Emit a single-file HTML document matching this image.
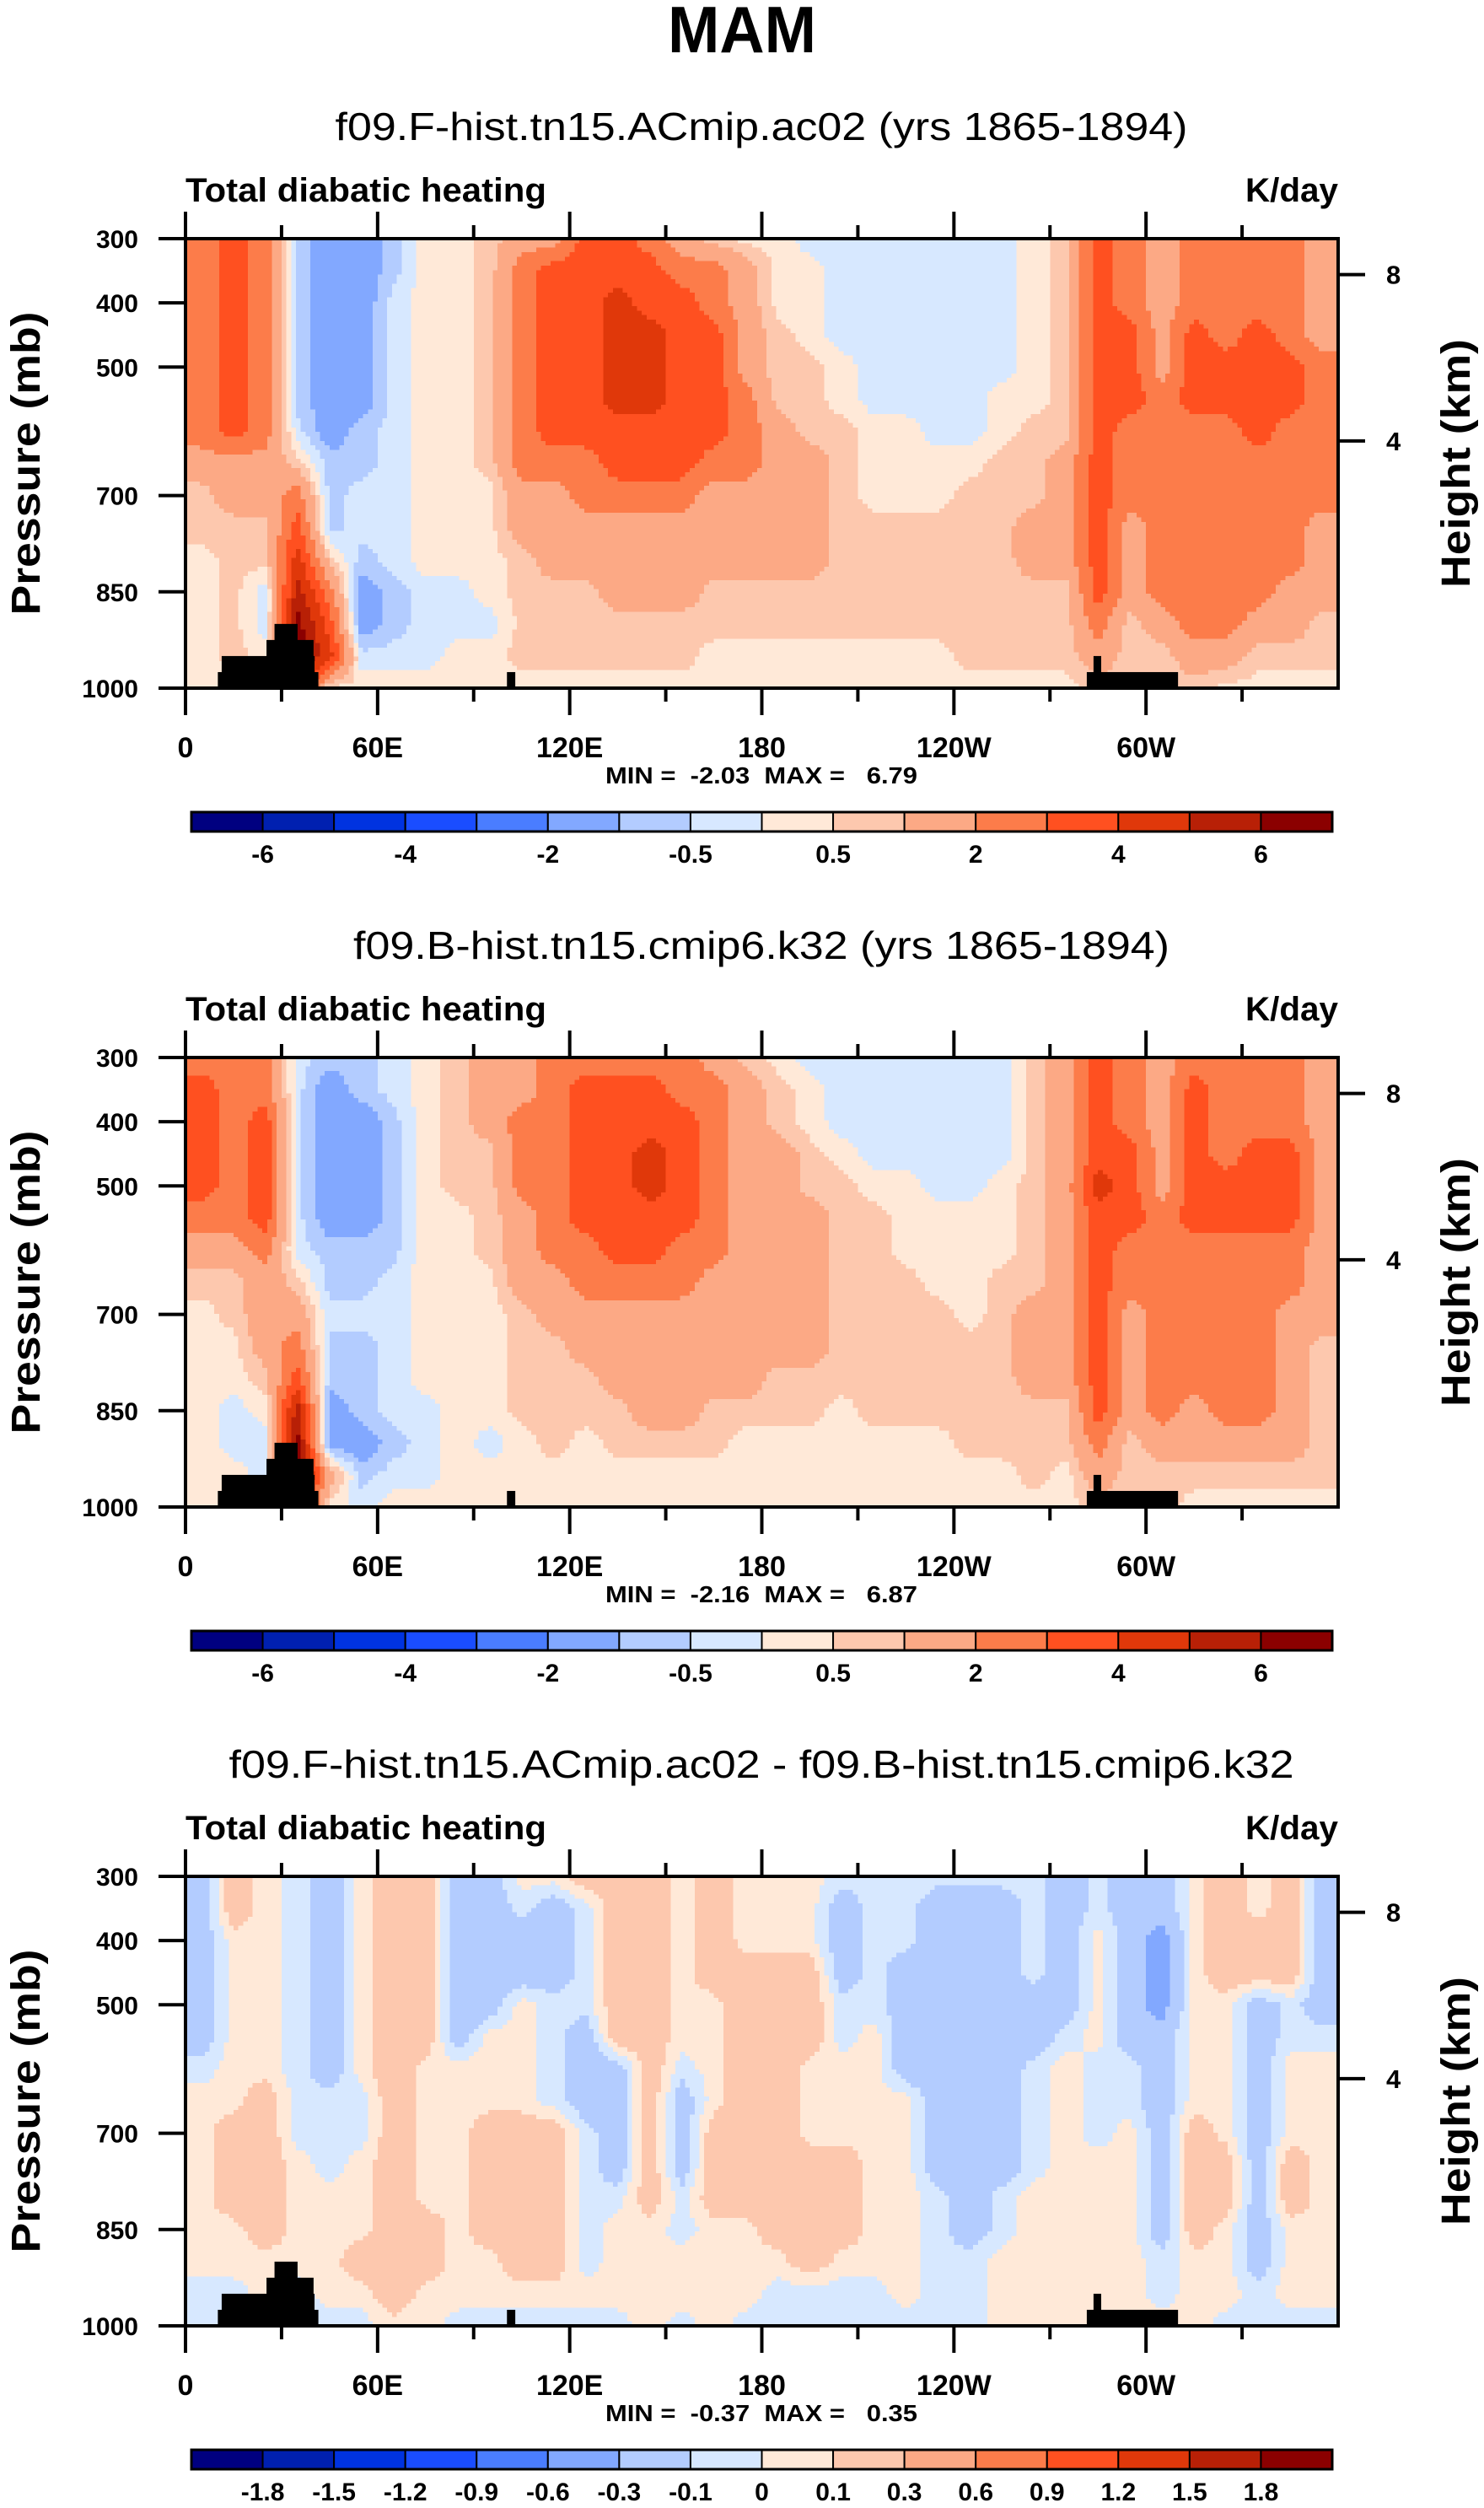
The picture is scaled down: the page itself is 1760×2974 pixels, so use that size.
<!DOCTYPE html>
<html><head><meta charset="utf-8">
<style>
html,body{margin:0;padding:0;background:#fff;}
svg{display:block;font-family:"Liberation Sans",sans-serif;}
.pre{white-space:pre;}
</style></head>
<body>
<svg id="fig" xmlns="http://www.w3.org/2000/svg" width="1760" height="2974" viewBox="0 0 1760 2974">
<rect width="1760" height="2974" fill="#fff"/>
<text x="880" y="62" text-anchor="middle" font-size="78" font-weight="bold" textLength="176" lengthAdjust="spacingAndGlyphs">MAM</text>
</svg>
<script>
// ---- data ----
const lonNodes = [5,15,25,35,45,55,65,75,85,95,105,115,125,135,145,155,165,175,185,195,205,215,225,235,245,255,265,275,285,295,305,315,325,335,345,355];
const presNodes = [300,350,400,450,500,550,600,650,700,750,800,850,900,950,1000];
const levelsFull = [-6,-5,-4,-3,-2,-1,-0.5,0,0.5,1,2,3,4,5,6];
const labelsFull = ["","-6","","-4","","-2","","-0.5","","0.5","","2","","4","","6"];
const levelsDiff = [-1.8,-1.5,-1.2,-0.9,-0.6,-0.3,-0.1,0,0.1,0.3,0.6,0.9,1.2,1.5,1.8];
const labelsDiff = ["","-1.8","-1.5","-1.2","-0.9","-0.6","-0.3","-0.1","0","0.1","0.3","0.6","0.9","1.2","1.5","1.8"];
const palette = ["#000080","#0020b0","#0033e0","#1a4dff","#4a7dff","#82a8ff","#b3ccff","#d7e8ff","#ffe9d8","#fdc8ae","#fca985","#fc7c4a","#ff5020","#e0380a","#b82006","#8b0000"];
const xTickLabels = ["0","60E","120E","180","120W","60W"];
const xTickLons = [0,60,120,180,240,300];
const yTickLabels = ["300","400","500","700","850","1000"];
const yTickPres = [300,400,500,700,850,1000];
const hTickLabels = ["8","4"];
const hTickPres = [356,615];
// terrain blocks: [lonStart, lonEnd, topPressure]
const terrainLon0 = [10.1,11.3,25.3,27.8,100.4,281.5,283.6];
const terrainLon1 = [41.5,40.3,40.0,35.0,103.0,310.0,286.0];
const terrainTop = [975,950,925,900,975,975,950];
const subtitles = ["f09.F-hist.tn15.ACmip.ac02 (yrs 1865-1894)","f09.B-hist.tn15.cmip6.k32 (yrs 1865-1894)","f09.F-hist.tn15.ACmip.ac02 - f09.B-hist.tn15.cmip6.k32"];
const minMax = ["MIN =  -2.03  MAX =   6.79","MIN =  -2.16  MAX =   6.87","MIN =  -0.37  MAX =   0.35"];

const fieldA = [
[2.5,2.5,2.5,2.5,2.5,2.5,2.5,1.5,0.7,0.7,0.3,0.3,0.3,0.3,0.3],
[3.5,3.5,3.5,3.5,3.5,3.5,3.5,1.5,1.5,0.7,0.7,0.7,0.7,0.7,0.3],
[2.5,2.5,2.5,2.5,2.5,2.5,2.5,1.5,1.5,0.7,0.7,-0.3,-0.3,0.3,0.3],
[-0.7,-0.7,-0.7,-0.7,-0.7,-0.7,-0.3,0.7,2.5,3.5,4.5,5.5,6.5,6.5,5],
[-1.5,-1.5,-1.5,-1.5,-1.5,-1.5,-1.5,-0.7,-0.7,-0.7,0.7,2.5,3.5,4.5,0.3],
[-1.5,-1.5,-1.5,-1.5,-1.5,-1.5,-0.7,-0.7,-0.3,-0.3,-0.7,-1.5,-1.5,-0.3,0.3],
[-0.7,-0.7,-0.3,-0.3,-0.3,-0.3,-0.3,-0.3,-0.3,-0.3,-0.3,-0.7,-0.7,-0.3,0.3],
[0.3,0.3,0.3,0.3,0.3,0.3,0.3,0.3,0.3,0.3,0.3,-0.3,-0.3,-0.3,0.3],
[0.3,0.3,0.3,0.3,0.3,0.3,0.3,0.3,0.3,0.3,0.3,-0.3,-0.3,0.3,0.3],
[0.7,0.7,0.7,0.7,0.7,0.7,0.7,0.7,0.3,0.3,0.3,0.3,-0.3,0.3,0.3],
[1.5,2.5,2.5,2.5,2.5,2.5,2.5,2.5,1.5,1.5,0.7,0.7,0.7,0.7,0.3],
[1.5,3.5,3.5,3.5,3.5,3.5,3.5,2.5,1.5,1.5,1.5,0.7,0.7,0.7,0.3],
[3.5,3.5,3.5,3.5,3.5,3.5,3.5,2.5,2.5,1.5,1.5,0.7,0.7,0.7,0.3],
[3.5,3.5,4.5,4.5,4.5,4.5,3.5,3.5,2.5,1.5,1.5,1.5,0.7,0.7,0.3],
[2.5,3.5,3.5,4.5,4.5,4.5,3.5,3.5,2.5,1.5,1.5,1.5,0.7,0.7,0.3],
[1.5,2.5,3.5,3.5,3.5,3.5,3.5,3.5,2.5,1.5,1.5,1.5,0.7,0.7,0.3],
[0.7,2.5,2.5,3.5,3.5,3.5,3.5,2.5,1.5,1.5,1.5,0.7,0.7,0.3,0.3],
[0.3,1.5,1.5,1.5,1.5,2.5,2.5,2.5,1.5,1.5,1.5,0.7,0.7,0.3,0.3],
[0.3,0.3,0.3,0.7,0.7,0.7,1.5,1.5,1.5,1.5,1.5,0.7,0.7,0.3,0.3],
[-0.3,0.3,0.3,0.3,0.7,0.7,0.7,1.5,1.5,1.5,1.5,0.7,0.7,0.3,0.3],
[-0.3,-0.3,-0.3,-0.3,0.3,0.3,0.7,0.7,0.7,0.7,0.7,0.7,0.7,0.3,0.3],
[-0.3,-0.3,-0.3,-0.3,-0.3,-0.3,0.3,0.3,0.3,0.7,0.7,0.7,0.7,0.3,0.3],
[-0.3,-0.3,-0.3,-0.3,-0.3,-0.3,0.3,0.3,0.3,0.7,0.7,0.7,0.7,0.3,0.3],
[-0.3,-0.3,-0.3,-0.3,-0.3,-0.3,-0.3,0.3,0.3,0.7,0.7,0.7,0.7,0.3,0.3],
[-0.3,-0.3,-0.3,-0.3,-0.3,-0.3,-0.3,0.3,0.7,0.7,0.7,0.7,0.7,0.7,0.3],
[-0.3,-0.3,-0.3,-0.3,-0.3,0.3,0.3,0.7,0.7,0.7,0.7,0.7,0.7,0.7,0.3],
[0.3,0.3,0.3,0.3,0.3,0.3,0.7,0.7,0.7,1.5,1.5,0.7,0.7,0.7,0.3],
[0.7,0.7,0.7,0.7,0.7,0.7,0.7,1.5,1.5,1.5,1.5,0.7,0.7,0.7,0.3],
[3.5,3.5,3.5,3.5,3.5,3.5,3.5,3.5,3.5,3.5,3.5,3.5,2.5,1.5,0.7],
[2.5,2.5,2.5,3.5,3.5,3.5,2.5,2.5,2.5,1.5,1.5,1.5,0.7,0.7,0.7],
[1.5,1.5,1.5,1.5,1.5,2.5,2.5,2.5,2.5,2.5,2.5,2.5,1.5,0.7,0.7],
[2.5,2.5,2.5,3.5,3.5,3.5,2.5,2.5,2.5,2.5,2.5,2.5,2.5,1.5,0.7],
[2.5,2.5,2.5,2.5,3.5,3.5,2.5,2.5,2.5,2.5,2.5,2.5,2.5,1.5,0.3],
[2.5,2.5,2.5,3.5,3.5,3.5,3.5,2.5,2.5,2.5,2.5,2.5,1.5,0.7,0.3],
[2.5,2.5,2.5,2.5,3.5,3.5,2.5,2.5,2.5,2.5,2.5,1.5,1.5,0.7,0.3],
[1.5,1.5,1.5,1.5,2.5,2.5,2.5,2.5,2.5,1.5,1.5,1.5,0.7,0.7,0.3]
];
const fieldB = [
[2.5,3.5,3.5,3.5,3.5,2.5,1.5,0.7,0.3,0.3,0.3,0.3,0.3,0.3,0.3],
[2.5,2.5,2.5,2.5,2.5,2.5,1.5,0.7,0.7,0.3,0.3,-0.3,-0.3,0.3,0.3],
[2.5,2.5,3.5,3.5,3.5,3.5,2.5,1.5,1.5,1.5,0.7,0.3,-0.3,-0.3,0.3],
[-0.3,-0.3,-0.3,-0.3,-0.3,-0.3,-0.3,0.7,1.5,2.5,3.5,5.5,6.5,6.5,5],
[-0.7,-1.5,-1.5,-1.5,-1.5,-1.5,-0.7,-0.7,-0.3,-0.7,-0.7,-1.5,-1.5,1.5,0.3],
[-0.7,-0.7,-1.5,-1.5,-1.5,-1.5,-0.7,-0.7,-0.3,-0.7,-0.7,-0.7,-1.5,-0.7,-0.3],
[-0.3,-0.3,-0.7,-0.7,-0.7,-0.7,-0.7,-0.3,-0.3,-0.3,-0.3,-0.3,-0.7,-0.3,0.3],
[0.3,0.3,0.3,0.3,0.3,0.3,0.3,0.3,0.3,0.3,0.3,-0.3,-0.3,-0.3,0.3],
[0.7,0.7,0.7,0.7,0.7,0.3,0.3,0.3,0.3,0.3,0.3,0.3,0.3,0.3,0.3],
[1.5,1.5,1.5,0.7,0.7,0.7,0.7,0.3,0.3,0.3,0.3,0.3,-0.3,0.3,0.3],
[1.5,1.5,2.5,2.5,2.5,1.5,1.5,1.5,0.7,0.7,0.7,0.7,0.3,0.3,0.3],
[2.5,2.5,2.5,2.5,2.5,2.5,2.5,1.5,1.5,0.7,0.7,0.7,0.7,0.3,0.3],
[2.5,3.5,3.5,3.5,3.5,3.5,2.5,2.5,1.5,1.5,0.7,0.7,0.3,0.3,0.3],
[2.5,3.5,3.5,3.5,3.5,3.5,3.5,2.5,1.5,1.5,1.5,0.7,0.7,0.3,0.3],
[2.5,3.5,3.5,4.5,4.5,3.5,3.5,2.5,1.5,1.5,1.5,1.5,0.7,0.3,0.3],
[2.5,2.5,3.5,3.5,3.5,3.5,2.5,2.5,1.5,1.5,1.5,1.5,0.7,0.3,0.3],
[1.5,2.5,2.5,2.5,2.5,2.5,2.5,1.5,1.5,1.5,1.5,0.7,0.7,0.3,0.3],
[0.7,1.5,1.5,1.5,1.5,1.5,1.5,1.5,1.5,1.5,1.5,0.7,0.3,0.3,0.3],
[0.3,0.7,0.7,1.5,1.5,1.5,1.5,1.5,1.5,1.5,0.7,0.7,0.3,0.3,0.3],
[-0.3,0.3,0.3,0.7,0.7,1.5,1.5,1.5,1.5,1.5,0.7,0.7,0.3,0.3,0.3],
[-0.3,-0.3,-0.3,0.3,0.7,0.7,0.7,0.7,0.7,0.7,0.7,0.3,0.3,0.3,0.3],
[-0.3,-0.3,-0.3,-0.3,0.3,0.7,0.7,0.7,0.7,0.7,0.7,0.7,0.3,0.3,0.3],
[-0.3,-0.3,-0.3,-0.3,0.3,0.3,0.3,0.7,0.7,0.7,0.7,0.7,0.3,0.3,0.3],
[-0.3,-0.3,-0.3,-0.3,-0.3,0.3,0.3,0.3,0.7,0.7,0.7,0.7,0.3,0.3,0.3],
[-0.3,-0.3,-0.3,-0.3,-0.3,0.3,0.3,0.3,0.3,0.7,0.7,0.7,0.7,0.3,0.3],
[-0.3,-0.3,-0.3,-0.3,0.3,0.3,0.3,0.7,0.7,0.7,0.7,0.7,0.7,0.3,0.3],
[0.7,0.7,0.7,0.7,0.7,0.7,0.7,0.7,1.5,1.5,1.5,0.7,0.7,0.7,0.3],
[1.5,1.5,1.5,1.5,1.5,1.5,1.5,1.5,1.5,1.5,1.5,0.7,0.7,0.3,0.3],
[3.5,3.5,3.5,3.5,4.5,3.5,3.5,3.5,3.5,3.5,3.5,3.5,2.5,1.5,0.7],
[2.5,2.5,2.5,3.5,3.5,3.5,2.5,2.5,1.5,1.5,1.5,1.5,0.7,0.7,0.7],
[1.5,1.5,1.5,1.5,1.5,2.5,2.5,2.5,2.5,2.5,2.5,2.5,1.5,0.7,0.7],
[2.5,3.5,3.5,3.5,3.5,3.5,2.5,2.5,2.5,2.5,2.5,1.5,1.5,0.7,0.3],
[2.5,2.5,2.5,2.5,3.5,3.5,2.5,2.5,2.5,2.5,2.5,2.5,1.5,0.7,0.3],
[2.5,2.5,2.5,3.5,3.5,3.5,2.5,2.5,2.5,2.5,2.5,2.5,1.5,0.7,0.3],
[2.5,2.5,2.5,3.5,3.5,3.5,2.5,2.5,1.5,1.5,1.5,1.5,1.5,0.7,0.3],
[1.5,1.5,1.5,1.5,1.5,1.5,1.5,1.5,1.5,0.7,0.7,0.7,0.7,0.7,0.3]
];
const fieldDiff = [
[-0.2,-0.2,-0.2,-0.2,-0.2,-0.2,-0.05,0.05,0.05,0.05,0.05,0.05,0.05,-0.05,-0.05],
[0.2,0.2,0.05,0.05,0.05,0.05,0.05,0.05,0.2,0.2,0.2,0.05,0.05,-0.05,0.05],
[0.05,0.05,0.05,0.05,0.05,0.05,0.05,0.2,0.2,0.2,0.2,0.2,0.05,0.05,-0.05],
[-0.05,-0.05,-0.05,-0.05,-0.05,-0.05,-0.05,-0.05,-0.05,0.05,0.05,0.05,0.05,-0.05,-0.05],
[-0.2,-0.2,-0.2,-0.2,-0.2,-0.2,-0.2,-0.05,-0.05,-0.05,0.05,0.05,0.05,0.05,-0.05],
[0.05,0.05,0.05,0.05,0.05,0.05,0.05,-0.05,-0.05,0.05,0.05,0.05,0.2,0.05,-0.05],
[0.2,0.2,0.2,0.2,0.2,0.2,0.2,0.2,0.2,0.2,0.2,0.2,0.2,0.2,0.05],
[0.2,0.2,0.2,0.2,0.2,0.2,0.05,0.05,0.05,0.05,0.05,0.2,0.2,0.05,0.05],
[-0.2,-0.2,-0.2,-0.2,-0.2,-0.2,0.05,0.05,0.05,0.05,0.05,0.05,0.05,0.05,-0.05],
[-0.2,-0.2,-0.2,-0.2,-0.2,0.05,0.05,0.05,0.2,0.2,0.2,0.2,0.05,0.05,-0.05],
[0.05,-0.05,-0.2,-0.2,0.05,0.05,0.05,0.05,0.2,0.2,0.2,0.2,0.2,0.05,-0.05],
[0.05,-0.2,-0.2,-0.2,-0.05,-0.05,-0.05,-0.05,0.2,0.2,0.2,0.2,0.2,0.05,-0.05],
[0.2,-0.05,-0.05,-0.05,-0.05,-0.2,-0.2,-0.2,-0.05,-0.05,-0.05,-0.05,-0.05,0.05,-0.05],
[0.2,0.2,0.2,0.2,0.2,0.2,-0.2,-0.2,-0.2,-0.2,-0.05,0.05,0.05,0.05,-0.05],
[0.2,0.2,0.2,0.2,0.2,0.2,0.2,0.2,0.2,0.2,0.2,0.05,0.05,0.05,0.05],
[0.05,0.05,0.05,0.05,0.05,0.05,-0.05,-0.2,-0.2,-0.2,-0.05,-0.05,0.05,0.05,-0.05],
[0.2,0.2,0.2,0.2,0.05,0.05,0.05,0.05,0.2,0.2,0.2,0.05,0.05,0.05,0.05],
[0.05,0.05,0.05,0.2,0.2,0.2,0.2,0.2,0.2,0.2,0.2,0.05,0.05,0.05,-0.05],
[0.05,0.05,0.05,0.2,0.2,0.2,0.2,0.2,0.2,0.2,0.2,0.2,0.05,-0.05,-0.05],
[0.05,0.05,0.05,0.2,0.2,0.2,0.05,0.05,0.05,0.2,0.2,0.2,0.2,-0.05,-0.05],
[-0.05,-0.2,-0.2,-0.2,-0.05,-0.05,0.05,0.05,0.05,0.2,0.2,0.2,0.05,-0.05,-0.05],
[-0.05,-0.05,-0.05,-0.05,-0.05,0.05,0.05,0.05,0.05,0.05,0.05,0.05,0.05,-0.05,-0.05],
[-0.05,-0.05,-0.05,-0.2,-0.2,-0.2,-0.2,0.05,0.05,0.05,0.05,0.05,0.05,0.05,-0.05],
[-0.05,-0.2,-0.2,-0.2,-0.2,-0.2,-0.2,-0.2,-0.2,-0.2,-0.05,-0.05,-0.05,-0.05,-0.05],
[-0.05,-0.2,-0.2,-0.2,-0.2,-0.2,-0.2,-0.2,-0.2,-0.2,-0.2,-0.2,-0.05,-0.05,-0.05],
[-0.05,-0.2,-0.2,-0.2,-0.2,-0.2,-0.2,-0.2,-0.2,-0.2,-0.05,-0.05,0.05,0.05,0.05],
[-0.05,-0.05,-0.05,-0.05,-0.2,-0.2,-0.05,-0.05,-0.05,-0.05,0.05,0.05,0.05,0.05,0.05],
[-0.2,-0.2,-0.2,-0.2,-0.2,-0.05,0.05,0.05,0.05,0.05,0.05,0.05,0.05,0.05,0.05],
[-0.05,-0.05,0.05,0.05,0.05,0.05,-0.05,-0.05,-0.05,0.05,0.05,0.05,0.05,0.05,0.05],
[-0.2,-0.2,-0.2,-0.2,-0.2,-0.2,-0.05,-0.05,0.05,0.05,0.05,0.05,0.05,0.05,0.05],
[-0.2,-0.2,-0.4,-0.4,-0.4,-0.2,-0.2,-0.2,-0.2,-0.2,-0.2,-0.2,-0.05,-0.05,0.05],
[0.05,0.05,0.05,0.05,0.05,0.05,0.05,0.05,0.2,0.2,0.2,0.2,0.05,0.05,0.05],
[0.2,0.2,0.2,0.2,0.05,0.05,0.05,0.05,0.05,0.2,0.2,0.05,0.05,0.05,-0.05],
[0.05,0.05,0.2,0.2,-0.2,-0.2,-0.2,-0.2,-0.2,-0.2,-0.2,-0.2,-0.2,-0.05,-0.05],
[0.2,0.2,0.2,0.2,-0.05,-0.05,0.05,0.05,0.05,0.2,0.2,0.05,0.05,0.05,-0.05],
[-0.2,-0.2,-0.2,-0.2,-0.2,-0.05,0.05,0.05,0.05,0.05,0.05,0.05,0.05,0.05,-0.05]
];

// ---- rendering ----
const NS = "http://www.w3.org/2000/svg";
const svg = document.getElementById("fig");
const PL = 220, PR = 1587, PH = 533, PANEL_DY = 971, FIRST_TOP = 283;
function mk(tag, attrs, parent) {
  const e = document.createElementNS(NS, tag);
  for (const k in attrs) e.setAttribute(k, attrs[k]);
  (parent || svg).appendChild(e);
  return e;
}
function xScale(lon) { return PL + (lon / 360) * (PR - PL); }
function yScale(p, top) { return top + ((p - 300) / 700) * PH; }
function colorIndex(v, levels) { let i = 0; while (i < levels.length && v >= levels[i]) i++; return i; }
function sample(field, lon, p) {
  let fi = (lon - 5) / 10; fi = Math.max(0, Math.min(lonNodes.length - 1, fi));
  let fj = (p - 300) / 50; fj = Math.max(0, Math.min(presNodes.length - 1, fj));
  const i0 = Math.floor(fi), i1 = Math.min(i0 + 1, lonNodes.length - 1), tx = fi - i0;
  const j0 = Math.floor(fj), j1 = Math.min(j0 + 1, presNodes.length - 1), ty = fj - j0;
  const a = field[i0][j0] * (1 - tx) + field[i1][j0] * tx;
  const b = field[i0][j1] * (1 - tx) + field[i1][j1] * tx;
  return a * (1 - ty) + b * ty;
}
const fields = [fieldA, fieldB, fieldDiff];
const levelSets = [levelsFull, levelsFull, levelsDiff];
const labelSets = [labelsFull, labelsFull, labelsDiff];

for (let k = 0; k < 3; k++) {
  const top = FIRST_TOP + k * PANEL_DY, bot = top + PH, dy = k * PANEL_DY;
  const g = mk("g", {});
  
  

  const st = mk("text", {x: 903, y: 166 + dy, "text-anchor": "middle", "font-size": 46}, g);
  
  
  st.textContent = subtitles[k];
  try {
    const w = st.getComputedTextLength();
    if (w > 0) { st.setAttribute("textLength", (w * 1.13).toFixed(0)); st.setAttribute("lengthAdjust", "spacingAndGlyphs"); }
  } catch (e) {}

  const lt = mk("text", {x: 220, y: 239 + dy, "font-size": 40, "font-weight": "bold", textLength: 428, lengthAdjust: "spacingAndGlyphs"}, g);
  
  
  lt.textContent = "Total diabatic heating";
  const ut = mk("text", {x: 1587, y: 239 + dy, "text-anchor": "end", "font-size": 40, "font-weight": "bold", textLength: 110, lengthAdjust: "spacingAndGlyphs"}, g);
  
  
  ut.textContent = "K/day";

  // heatmap
  const hm = mk("g", {"shape-rendering": "crispEdges"}, g);
  
  
  const field = fields[k], levels = levelSets[k];
  const dLon = 1.5, dP = 7;
  for (let p = 300; p < 1000; p += dP) {
    const p1 = Math.min(1000, p + dP);
    const y0 = yScale(p, top), y1 = yScale(p1, top);
    let runStart = 0, runCol = -1;
    for (let lon = 0; lon <= 360; lon += dLon) {
      let ci = -1;
      if (lon < 360) ci = colorIndex(sample(field, lon + dLon / 2, (p + p1) / 2), levels);
      if (ci !== runCol) {
        if (runCol >= 0) {
          const x0 = xScale(runStart), x1 = xScale(lon);
          const r = mk("rect", {x: x0.toFixed(1), y: y0.toFixed(1), width: (x1 - x0 + 0.6).toFixed(1), height: (y1 - y0 + 0.6).toFixed(1), fill: palette[runCol]}, hm);
          
          
        }
        runStart = lon; runCol = ci;
      }
    }
  }
  // terrain
  for (let t = 0; t < terrainLon0.length; t++) {
    const x0 = xScale(terrainLon0[t]), x1 = xScale(terrainLon1[t]), y0 = yScale(terrainTop[t], top);
    const r = mk("rect", {x: x0, y: y0, width: x1 - x0, height: bot - y0, fill: "#000"}, g);
    
    
  }
  // frame
  const fr = mk("rect", {x: PL, y: top, width: PR - PL, height: PH, fill: "none", stroke: "#000", "stroke-width": 4}, g);
  
  
  // x ticks
  for (let lon = 0; lon < 360; lon += 30) {
    const x = xScale(lon), major = lon % 60 === 0, len = major ? 32 : 16;
    const t1 = mk("line", {x1: x, x2: x, y1: top, y2: top - len, stroke: "#000", "stroke-width": 4}, g);
    
    
    const t2 = mk("line", {x1: x, x2: x, y1: bot, y2: bot + len, stroke: "#000", "stroke-width": 4}, g);
    
    
  }
  for (let i = 0; i < xTickLabels.length; i++) {
    const tx = mk("text", {x: xScale(xTickLons[i]), y: bot + 82, "text-anchor": "middle", "font-size": 34, "font-weight": "bold"}, g);
    
    
    tx.textContent = xTickLabels[i];
  }
  // y ticks
  for (let i = 0; i < yTickPres.length; i++) {
    const y = yScale(yTickPres[i], top);
    const tl = mk("line", {x1: PL, x2: PL - 32, y1: y, y2: y, stroke: "#000", "stroke-width": 4}, g);
    
    
    const tt = mk("text", {x: 164, y: y + 11, "text-anchor": "end", "font-size": 30, "font-weight": "bold"}, g);
    
    
    tt.textContent = yTickLabels[i];
  }
  for (let i = 0; i < hTickPres.length; i++) {
    const y = yScale(hTickPres[i], top);
    const tl = mk("line", {x1: PR, x2: PR + 32, y1: y, y2: y, stroke: "#000", "stroke-width": 4}, g);
    
    
    const tt = mk("text", {x: 1644, y: y + 11, "font-size": 31, "font-weight": "bold"}, g);
    
    
    tt.textContent = hTickLabels[i];
  }
  const cy = top + PH / 2;
  const ya = mk("text", {x: 0, y: 0, transform: "translate(47," + cy + ") rotate(-90)", "text-anchor": "middle", "font-size": 48, "font-weight": "bold", textLength: 360, lengthAdjust: "spacingAndGlyphs"}, g);
  
  
  ya.textContent = "Pressure (mb)";
  const ha = mk("text", {x: 0, y: 0, transform: "translate(1743," + cy + ") rotate(-90)", "text-anchor": "middle", "font-size": 48, "font-weight": "bold", textLength: 295, lengthAdjust: "spacingAndGlyphs"}, g);
  
  
  ha.textContent = "Height (km)";
  const mm = mk("text", {x: 903, y: 929 + dy, "text-anchor": "middle", "font-size": 28, "font-weight": "bold", textLength: 370, lengthAdjust: "spacingAndGlyphs", "class": "pre"}, g);
  
  
  mm.textContent = minMax[k];
  // colorbar
  const cb = mk("g", {}, g);
  
  
  const cbx0 = 227, cbx1 = 1580, cby = 963 + dy, cbh = 23, bw = (cbx1 - cbx0) / palette.length;
  for (let i = 0; i < palette.length; i++) {
    const r = mk("rect", {x: cbx0 + i * bw, y: cby, width: bw, height: cbh, fill: palette[i], stroke: "#000", "stroke-width": 2}, cb);
    
    
  }
  const cbo = mk("rect", {x: cbx0, y: cby, width: cbx1 - cbx0, height: cbh, fill: "none", stroke: "#000", "stroke-width": 3}, cb);
  
  
  const labs = labelSets[k];
  for (let i = 1; i < labs.length; i++) {
    if (!labs[i]) continue;
    const t = mk("text", {x: cbx0 + i * bw, y: cby + 60, "text-anchor": "middle", "font-size": 30, "font-weight": "bold"}, cb);
    
    
    t.textContent = labs[i];
  }
}
</script>
</body></html>
